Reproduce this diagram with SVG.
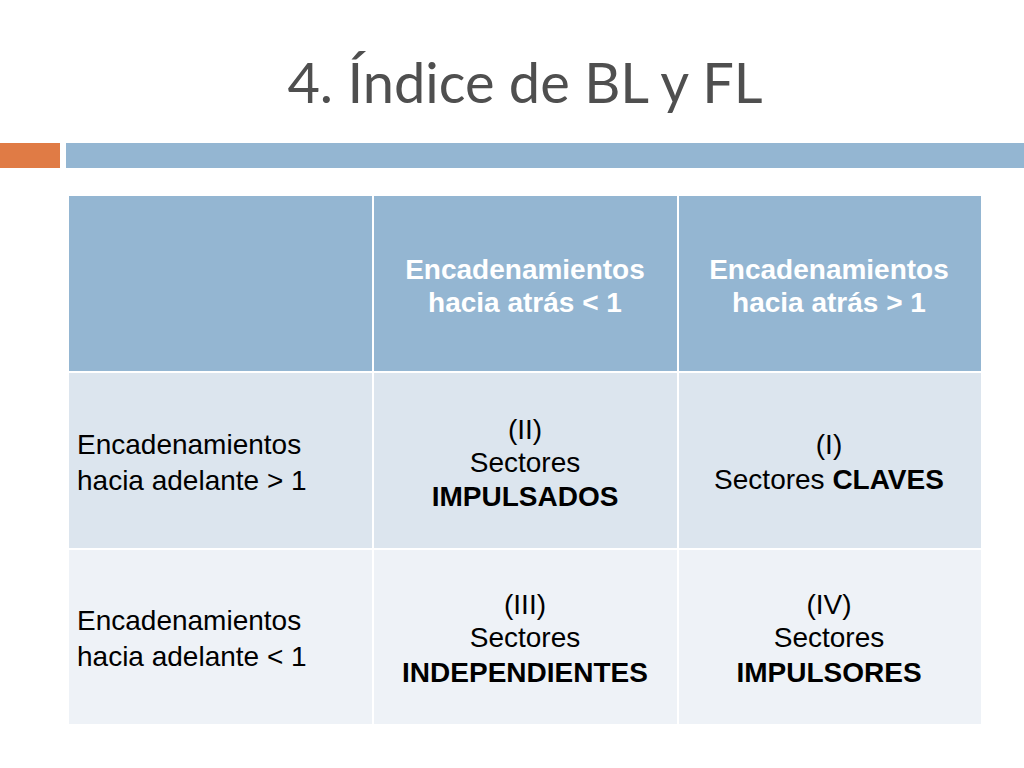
<svg xmlns="http://www.w3.org/2000/svg" width="1024" height="768" viewBox="0 0 1024 768">
<style>
.t{font-family:"Liberation Sans",Arial,sans-serif;font-size:28px;fill:#000}
.h{font-family:"Liberation Sans",Arial,sans-serif;font-size:28px;font-weight:bold;fill:#fff;text-anchor:middle}
.c{text-anchor:middle}
.b{font-weight:bold}
</style>
<rect width="1024" height="768" fill="#fff"/>
<text x="525" y="103" text-anchor="middle" font-family="Lato,'Open Sans',sans-serif" font-size="56" fill="#4f4f4f">4. Índice de BL y FL</text>
<rect x="0" y="143" width="60" height="25" fill="#E07B45"/>
<rect x="66" y="143" width="958" height="25" fill="#94B6D2"/>
<g id="table">
<rect x="69" y="196" width="912" height="528" fill="#fff"/>
<g fill="#94B6D2">
<rect x="69" y="196" width="303" height="175"/><rect x="374" y="196" width="303" height="175"/><rect x="679" y="196" width="302" height="175"/>
</g>
<g fill="#DCE5EE">
<rect x="69" y="373" width="303" height="175"/><rect x="374" y="373" width="303" height="175"/><rect x="679" y="373" width="302" height="175"/>
</g>
<g fill="#EEF2F7">
<rect x="69" y="550" width="303" height="174"/><rect x="374" y="550" width="303" height="174"/><rect x="679" y="550" width="302" height="174"/>
</g>
</g>
<g id="header">
<text class="h" x="525" y="279">Encadenamientos</text><text class="h" x="525" y="312">hacia atrás &lt; 1</text>
<text class="h" x="829" y="279">Encadenamientos</text><text class="h" x="829" y="312">hacia atrás &gt; 1</text>
</g>
<g id="row1">
<text class="t" x="77" y="454">Encadenamientos</text><text class="t" x="77" y="490">hacia adelante &gt; 1</text>
<text class="t c" x="525" y="439">(II)</text><text class="t c" x="525" y="472">Sectores</text><text class="t c b" x="525" y="506">IMPULSADOS</text>
<text class="t c" x="829" y="454">(I)</text><text class="t c" x="829" y="489">Sectores <tspan class="b">CLAVES</tspan></text>
</g>
<g id="row2">
<text class="t" x="77" y="630">Encadenamientos</text><text class="t" x="77" y="666">hacia adelante &lt; 1</text>
<text class="t c" x="525" y="614">(III)</text><text class="t c" x="525" y="647">Sectores</text><text class="t c b" x="525" y="682">INDEPENDIENTES</text>
<text class="t c" x="829" y="614">(IV)</text><text class="t c" x="829" y="647">Sectores</text><text class="t c b" x="829" y="682">IMPULSORES</text>
</g>
</svg>
